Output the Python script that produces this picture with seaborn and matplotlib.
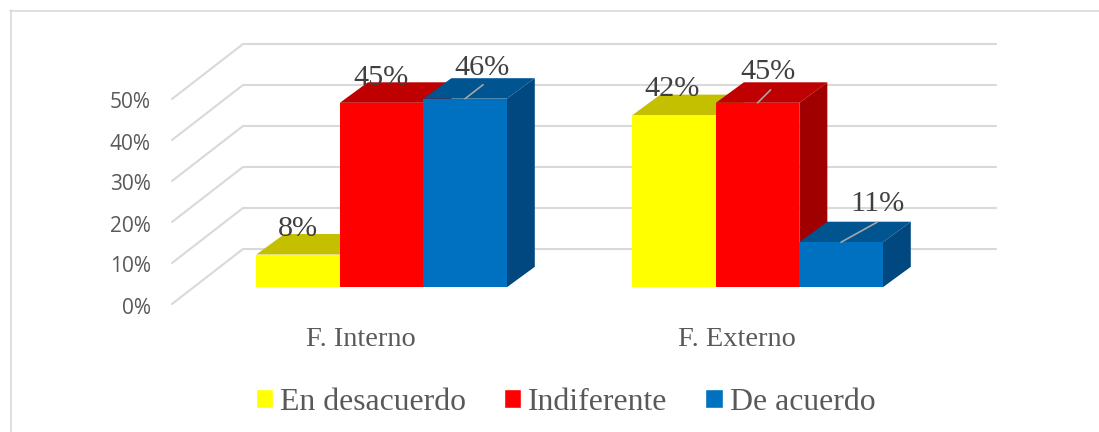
import matplotlib
matplotlib.use('Agg')
import matplotlib.pyplot as plt
from matplotlib.lines import Line2D
from matplotlib.patches import Polygon
from matplotlib.transforms import ScaledTranslation
import pandas as pd
import seaborn as sns

# Values
factores = ['F. Interno', 'F. Externo']
respuestas = ['En desacuerdo', 'Indiferente', 'De acuerdo']
en_desacuerdo = [8, 42]
indiferente = [45, 45]
de_acuerdo = [46, 11]
ticks_pct = [0, 10, 20, 30, 40, 50]

# Colours: front, top, side
colores = ['#FFFF00', '#FF0000', '#0070C0']
colores_top = ['#C4C000', '#BF0000', '#005490']
colores_lado = ['#A6A600', '#A00000', '#00487F']

data = pd.DataFrame({
    'factor': factores * 3,
    'respuesta': [r for r in respuestas for _ in factores],
    'valor': en_desacuerdo + indiferente + de_acuerdo,
})

sns.set_theme(style="white")
plt.rcParams['font.family'] = ['Liberation Serif', 'DejaVu Serif']

W, H = 1099, 432
fig = plt.figure(figsize=(W / 100, H / 100), dpi=100)
fig.patch.set_facecolor('white')

# Pixel frame of the wall
left, right, top, bottom = 172, 996, 44, 304
ax = fig.add_axes([left / W, 1 - bottom / H, (right - left) / W, (bottom - top) / H])

# 1 category = 376 px, 10% = 41 px, first group centre at 381.6 px, bar base at 287.3 px
px_x = 376
px_y = 4.1
ax.set_xlim((left - 381.6) / px_x, (right - 381.6) / px_x)
ax.set_ylim((287.3 - bottom) / px_y, (287.3 - top) / px_y)
xlim = ax.get_xlim()
ylim = ax.get_ylim()

sns.barplot(data=data, x='factor', y='valor', hue='respuesta', hue_order=respuestas,
            order=factores, palette=colores, saturation=1, width=0.666, gap=0, ax=ax)
ax.set_xlim(xlim)
ax.set_ylim(ylim)
ax.set_xlabel('')
ax.set_ylabel('')
sns.despine(ax=ax, left=True, bottom=True)

# Depth of the wall and of the bars, in data units
wall_dx = 71 / px_x
wall_dy = 55 / px_y
bar_dx = 28 / px_x
bar_dy = 20.5 / px_y
front_y = ylim[0]

# Back wall and floor lines
grid_color = '#D9D9D9'
for t in ticks_pct:
    y = front_y + t
    ax.plot([xlim[0], xlim[0] + wall_dx, xlim[1]], [y, y + wall_dy, y + wall_dy],
            color=grid_color, lw=1.5, zorder=1, clip_on=False)

# Top and side faces for the bars
for i, cont in enumerate(ax.containers):
    for bar in cont:
        bar.set_zorder(2.5 + i)
        bar.set_linewidth(0)
        x0 = bar.get_x()
        x1 = x0 + bar.get_width()
        v = bar.get_height()
        ax.add_patch(Polygon([(x0, v), (x1, v), (x1 + bar_dx, v + bar_dy), (x0 + bar_dx, v + bar_dy)],
                             closed=True, fc=colores_top[i], ec='none', zorder=2 + i, clip_on=False))
        ax.add_patch(Polygon([(x1, 0), (x1 + bar_dx, bar_dy), (x1 + bar_dx, v + bar_dy), (x1, v)],
                             closed=True, fc=colores_lado[i], ec='none', zorder=2 + i, clip_on=False))

# Data labels: offset from the bar's front top centre, in pixels
etiqueta_off = [[(0, 26), (-2, 26)], [(-1, 25), (10, 31)], [(17, 31), (36, 38)]]
lider_off = [[None, None], [None, (13, 13)], [(18, 14), (36, 20)]]
for i, cont in enumerate(ax.containers):
    for j, bar in enumerate(cont):
        cx = bar.get_x() + bar.get_width() / 2
        v = bar.get_height()
        ax.annotate(f'{v:.0f}%', xy=(cx, v), xytext=etiqueta_off[i][j], textcoords='offset pixels',
                    ha='center', va='center', fontsize=21.8, color='#404040', zorder=8,
                    annotation_clip=False)
        if lider_off[i][j]:
            ax.annotate('', xy=(cx, v), xytext=lider_off[i][j], textcoords='offset pixels',
                        arrowprops=dict(arrowstyle='-', color='#A6A6A6', lw=1.2, shrinkA=0, shrinkB=0),
                        zorder=8, annotation_clip=False)

# Axis labels
ax.set_yticks([front_y + t for t in ticks_pct])
ax.set_yticklabels([f'{t}%' for t in ticks_pct], family=['Open Sans', 'DejaVu Sans'],
                   fontsize=15, color='#595959')
ax.set_xticks([-0.055, 0.945])
ax.set_xticklabels(factores, fontsize=20.4, color='#595959')
ax.tick_params(axis='y', length=0, pad=15.2)
ax.tick_params(axis='x', length=0, pad=16.5)
for lab in ax.get_yticklabels():
    lab.set_transform(lab.get_transform() + ScaledTranslation(0, -1.5 / 100, fig.dpi_scale_trans))

# Legend
handles, labels = ax.get_legend_handles_labels()
ax.legend(handles, labels, loc='center', bbox_to_anchor=(565.5 / W, 1 - 402 / H),
          bbox_transform=fig.transFigure, ncol=3, frameon=False, fontsize=22.9,
          handlelength=0.55, handleheight=0.55, handletextpad=0.22, columnspacing=1.18,
          labelcolor='#595959', borderpad=0, borderaxespad=0)

# Chart border
borde = dict(color='#D9D9D9', lw=1.2, transform=fig.transFigure)
fig.add_artist(Line2D([10 / W, 1099 / W], [1 - 10.5 / H, 1 - 10.5 / H], **borde))
fig.add_artist(Line2D([10.5 / W, 10.5 / W], [1 - 10 / H, 0], **borde))

fig.savefig('out.png', dpi=100)
